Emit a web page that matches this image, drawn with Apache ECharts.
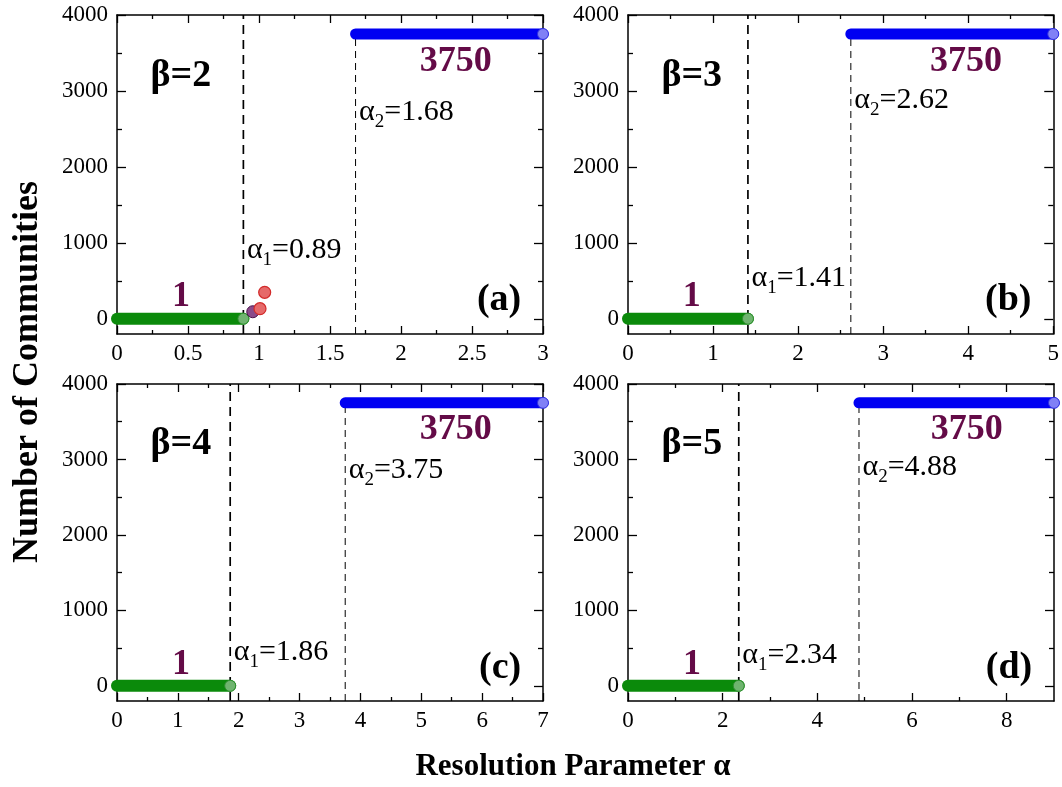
<!DOCTYPE html>
<html>
<head>
<meta charset="utf-8">
<script src="https://cdn.jsdelivr.net/npm/echarts@6/dist/echarts.min.js"></script>
<style>
html,body{margin:0;padding:0;background:#fff;}
#chart{width:1062px;height:787px;}
</style>
</head>
<body>
<div id="chart"></div>
<script>
// ---- data ----
const panelLabels = ['(a)', '(b)', '(c)', '(d)'];
const betaValues = [2, 3, 4, 5];
const alpha1 = [0.89, 1.41, 1.86, 2.34];
const alpha2 = [1.68, 2.62, 3.75, 4.88];
const xMaxes = [3, 5, 7, 9];
const xMajorTicks = [
  [0, 0.5, 1, 1.5, 2, 2.5, 3],
  [0, 1, 2, 3, 4, 5],
  [0, 1, 2, 3, 4, 5, 6, 7],
  [0, 2, 4, 6, 8]
];
const xMinorTicks = [
  [0.25, 0.75, 1.25, 1.75, 2.25, 2.75],
  [0.5, 1.5, 2.5, 3.5, 4.5],
  [0.5, 1.5, 2.5, 3.5, 4.5, 5.5, 6.5],
  [1, 3, 5, 7]
];
const yMajorTicks = [0, 1000, 2000, 3000, 4000];
const yMinorTicks = [500, 1500, 2500, 3500];
const yMin = -200, yMax = 4000;
const lowCount = 1;
const highCount = 3750;
const purplePointsA = [[0.956, 93]];
const redPointsA = [[1.007, 133], [1.040, 349]];

// ---- layout / style ----
const FONT = 'Liberation Serif';
const MAROON = '#640b47';
const GREEN = '#0b8a0b';
const BLUE = '#0000f2';
const grids = [
  {left: 117, top: 15, width: 426, height: 319},
  {left: 628, top: 15, width: 426, height: 319},
  {left: 117, top: 384, width: 426, height: 317},
  {left: 628, top: 384, width: 426, height: 317}
];
const alpha1LabelY = [905, 537, 450, 410];
const alpha2LabelY = [2723, 2880, 2860, 2900];

const xAxes = [], yAxes = [], series = [];
const lineCol = '#000';
const plain = v => String(v);

function xAx(i, pos, ticks, len, showLine, labels) {
  return {
    type: 'value', gridIndex: i, position: pos, min: 0, max: xMaxes[i],
    axisLine: {show: showLine, onZero: false, lineStyle: {color: lineCol, width: 1.5}},
    axisTick: {show: true, inside: true, length: len, customValues: ticks, lineStyle: {color: lineCol, width: 1.3}},
    axisLabel: labels ? {show: true, customValues: ticks, formatter: plain, color: '#000', fontFamily: FONT, fontSize: 23, margin: 8} : {show: false},
    splitLine: {show: false}
  };
}
function yAx(i, pos, ticks, len, showLine, labels) {
  return {
    type: 'value', gridIndex: i, position: pos, min: yMin, max: yMax,
    axisLine: {show: showLine, onZero: false, lineStyle: {color: lineCol, width: 1.5}},
    axisTick: {show: true, inside: true, length: len, customValues: ticks, lineStyle: {color: lineCol, width: 1.3}},
    axisLabel: labels ? {show: true, customValues: ticks, formatter: plain, color: '#000', fontFamily: FONT, fontSize: 23, margin: 9} : {show: false},
    splitLine: {show: false}
  };
}
function textPoint(i, pt, label) {
  return {
    type: 'scatter', xAxisIndex: 4 * i, yAxisIndex: 4 * i, silent: true, clip: false,
    symbolSize: 1, itemStyle: {color: 'rgba(0,0,0,0)', opacity: 1}, z: 20,
    data: [pt],
    label: Object.assign({show: true, color: '#000', fontFamily: FONT}, label)
  };
}

const alphaRich = {
  g: {fontSize: 30, fontFamily: FONT, color: '#000', lineHeight: 34},
  s: {fontSize: 19, fontFamily: FONT, color: '#000', padding: [20, 0, 0, 0]}
};

for (let i = 0; i < 4; i++) {
  xAxes.push(xAx(i, 'bottom', xMajorTicks[i], 8, true, true));
  xAxes.push(xAx(i, 'bottom', xMinorTicks[i], 4, false, false));
  xAxes.push(xAx(i, 'top', xMajorTicks[i], 8, true, false));
  xAxes.push(xAx(i, 'top', xMinorTicks[i], 4, false, false));
  yAxes.push(yAx(i, 'left', yMajorTicks, 9, true, true));
  yAxes.push(yAx(i, 'left', yMinorTicks, 5, false, false));
  yAxes.push(yAx(i, 'right', yMajorTicks, 9, true, false));
  yAxes.push(yAx(i, 'right', yMinorTicks, 5, false, false));

  const xi = 4 * i, yi = 4 * i;
  const xm = xMaxes[i];
  // dashed threshold lines
  series.push({
    type: 'line', xAxisIndex: xi, yAxisIndex: yi, silent: true, symbol: 'none', z: 2,
    data: [[alpha1[i], yMin], [alpha1[i], yMax]],
    lineStyle: {color: '#000', width: 1.7, type: [9, 6]}
  });
  series.push({
    type: 'line', xAxisIndex: xi, yAxisIndex: yi, silent: true, symbol: 'none', z: 2,
    data: [[alpha2[i], yMin], [alpha2[i], highCount]],
    lineStyle: {color: '#000', width: 1, type: [7, 5]}
  });
  // plateau of a single community
  series.push({
    type: 'line', xAxisIndex: xi, yAxisIndex: yi, silent: true, symbol: 'none', clip: false, z: 5,
    data: [[0, lowCount], [alpha1[i], lowCount]],
    lineStyle: {color: GREEN, width: 12, cap: 'round'}
  });
  // plateau of singletons
  series.push({
    type: 'line', xAxisIndex: xi, yAxisIndex: yi, silent: true, symbol: 'none', clip: false, z: 5,
    data: [[alpha2[i], highCount], [xm, highCount]],
    lineStyle: {color: BLUE, width: 11, cap: 'round'}
  });
  // end markers
  series.push({
    type: 'scatter', xAxisIndex: xi, yAxisIndex: yi, silent: true, clip: false, z: 6,
    symbolSize: 11, data: [[alpha1[i], lowCount]],
    itemStyle: {color: '#6fb46f', borderColor: '#2f8f2f', borderWidth: 1, opacity: 1}
  });
  series.push({
    type: 'scatter', xAxisIndex: xi, yAxisIndex: yi, silent: true, clip: false, z: 6,
    symbolSize: 11, data: [[xm, highCount]],
    itemStyle: {color: '#8080f6', borderColor: '#3030e0', borderWidth: 1, opacity: 1}
  });
  // texts
  series.push(textPoint(i, [xm * 0.15, 3200],
    {position: 'inside', formatter: '\u03b2=' + betaValues[i], fontSize: 38, fontWeight: 'bold'}));
  series.push(textPoint(i, [xm * 0.795, 3390],
    {position: 'inside', formatter: String(highCount), color: MAROON, fontSize: 36, fontWeight: 'bold'}));
  series.push(textPoint(i, [xm * 0.15, 285],
    {position: 'inside', formatter: String(lowCount), color: MAROON, fontSize: 36, fontWeight: 'bold'}));
  series.push(textPoint(i, [xm * 0.95, 240],
    {position: 'left', distance: 0, formatter: panelLabels[i], fontSize: 38, fontWeight: 'bold'}));
  series.push(textPoint(i, [alpha1[i], alpha1LabelY[i]],
    {position: 'right', distance: 3, formatter: '{g|\u03b1}{s|1}{g|=' + alpha1[i].toFixed(2) + '}', rich: alphaRich}));
  series.push(textPoint(i, [alpha2[i], alpha2LabelY[i]],
    {position: 'right', distance: 3, formatter: '{g|\u03b1}{s|2}{g|=' + alpha2[i].toFixed(2) + '}', rich: alphaRich}));
}
// transition points in panel (a)
series.push({
  type: 'scatter', xAxisIndex: 0, yAxisIndex: 0, silent: true, clip: false, z: 7,
  symbolSize: 12, data: purplePointsA,
  itemStyle: {color: '#8a4a8a', borderColor: '#4a104a', borderWidth: 1, opacity: 1}
});
series.push({
  type: 'scatter', xAxisIndex: 0, yAxisIndex: 0, silent: true, clip: false, z: 8,
  symbolSize: 12, data: redPointsA,
  itemStyle: {color: '#e66a6a', borderColor: '#d22a2a', borderWidth: 1.2, opacity: 1}
});

const chart = echarts.init(document.getElementById('chart'), null, {renderer: 'canvas'});
chart.setOption({
  animation: false,
  backgroundColor: '#fff',
  grid: grids,
  xAxis: xAxes,
  yAxis: yAxes,
  series: series,
  graphic: [
    {type: 'text', x: 573, y: 767,
     style: {text: 'Resolution Parameter \u03b1', font: 'bold 31px "Liberation Serif"', fill: '#000', align: 'center', verticalAlign: 'middle'}},
    {type: 'text', x: 28, y: 372, rotation: Math.PI / 2,
     style: {text: 'Number of Communities', font: 'bold 36px "Liberation Serif"', fill: '#000', align: 'center', verticalAlign: 'middle'}}
  ]
});
</script>
</body>
</html>
